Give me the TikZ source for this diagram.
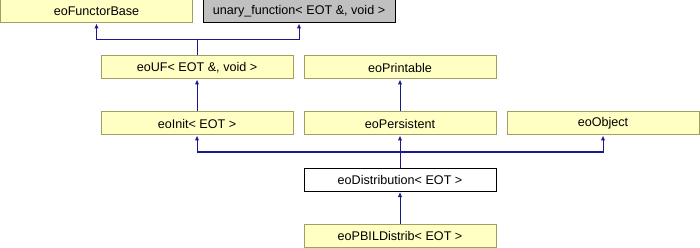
\documentclass[tikz,border=0pt]{standalone}
\usepackage{fontspec}
\setmainfont{Liberation Sans}
\usetikzlibrary{arrows.meta}
\definecolor{boxfill}{RGB}{255,255,196}
\definecolor{boxborder}{RGB}{160,160,96}
\definecolor{grayfill}{RGB}{192,192,192}
\definecolor{edgecol}{RGB}{25,25,140}
\begin{document}
\begin{tikzpicture}[x=1pt,y=-1pt,
  cls/.style={draw=boxborder, fill=boxfill, line width=1pt, minimum width=192pt, minimum height=23pt, inner sep=0pt, font=\fontsize{12.6}{14}\selectfont},
  extcls/.style={cls, draw=black, fill=grayfill},
  curcls/.style={cls, draw=black, fill=white},
  edge/.style={draw=edgecol, line width=1pt, -{Latex[length=5pt,width=4.5pt]}}
]
\useasboundingbox (0,0) rectangle (700,248);
\node[cls] (fb) at (96.5,11.5) {eoFunctorBase};
\node[extcls] (un) at (299,11.5) {unary\_function< EOT \&, void >};
\node[cls] (uf) at (197,67.5) {eoUF< EOT \&, void >};
\node[cls] (pr) at (400,67.5) {eoPrintable};
\node[cls] (in) at (197,123.5) {eoInit< EOT >};
\node[cls] (pe) at (400,123.5) {eoPersistent};
\node[cls] (ob) at (603,123.5) {eoObject};
\node[curcls] (di) at (400,180) {eoDistribution< EOT >};
\node[cls] (pb) at (400,235.5) {eoPBILDistrib< EOT >};
\coordinate (j1) at (197,40);
\coordinate (j2) at (400,152);
\draw[edge] (uf.north) -- (j1) -| (fb.south);
\draw[edge] (j1) -| (un.south);
\draw[edge] (in.north) -- (uf.south);
\draw[edge] (pe.north) -- (pr.south);
\draw[edge] (di.north) -- (j2) -| (in.south);
\draw[edge] (j2) -- (pe.south);
\draw[edge] (j2) -| (ob.south);
\draw[edge] (pb.north) -- (di.south);
\end{tikzpicture}
\end{document}
